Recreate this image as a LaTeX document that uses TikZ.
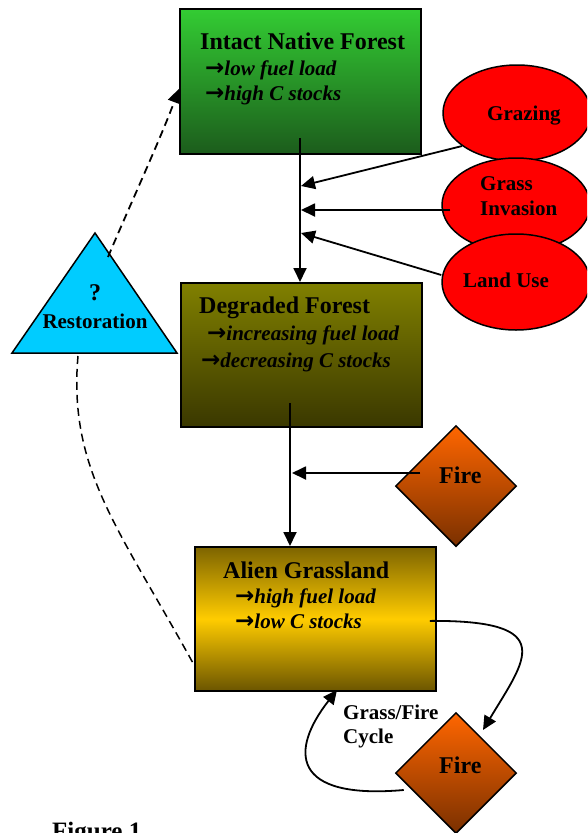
\documentclass[tikz,border=0pt]{standalone}
\usepackage{fontspec}
\setmainfont{Liberation Serif}
\newfontfamily\symfont{DejaVu Sans}
\usetikzlibrary{arrows.meta,shapes.geometric}
\definecolor{gtop}{HTML}{33CC33}
\definecolor{gbot}{HTML}{1C5C1C}
\definecolor{otop}{HTML}{808000}
\definecolor{obot}{HTML}{3A3800}
\definecolor{atop}{HTML}{7D6400}
\definecolor{amid}{HTML}{FFCC00}
\definecolor{abot}{HTML}{6B5500}
\definecolor{ftop}{HTML}{FF6600}
\definecolor{fbot}{HTML}{7A3000}
\definecolor{tricol}{HTML}{00CCFF}
\newcommand{\myarr}{{\symfont\bfseries\upshape\fontsize{23}{23}\selectfont →}}
\tikzset{
  box/.style={draw=black, line width=1.8pt, inner sep=0pt, anchor=north west, minimum width=241pt, minimum height=145pt},
  ell/.style={ellipse, draw=black, line width=1.5pt, fill=red, inner sep=0pt, minimum width=148pt, minimum height=96pt},
  firebox/.style={diamond, draw=black, line width=1.5pt, top color=ftop, bottom color=fbot, inner sep=0pt, minimum width=121pt, minimum height=121pt},
  head/.style={font=\fontsize{24}{24}\selectfont\bfseries, anchor=base west, inner sep=0pt},
  item/.style={font=\fontsize{21}{21}\selectfont\bfseries\itshape, anchor=base west, inner sep=0pt},
  lab/.style={font=\fontsize{21}{21}\selectfont\bfseries, anchor=base west, inner sep=0pt},
  arr/.style={line width=1.8pt, -{Triangle[length=14pt,width=13pt]}},
  darr/.style={line width=1.8pt, dash pattern=on 8pt off 5pt, -{Triangle[length=14pt,width=13pt]}},
  dline/.style={line width=1.5pt, dash pattern=on 8pt off 5pt},
}
\begin{document}
\begin{tikzpicture}[x=1pt,y=-1pt]
\clip (0,0) rectangle (587,833);
\useasboundingbox (0,0) rectangle (587,833);

% boxes
\node[box, top color=gtop, bottom color=gbot] (intact) at (179,8) {};
\node[box, top color=otop, bottom color=obot, minimum height=144pt] (deg) at (180,282) {};
\node[box, top color=atop, bottom color=abot, middle color=amid, minimum height=144pt] (alien) at (194,546) {};

% box texts
\node[head] (t1) at (200,49) {Intact Native Forest};
\node[item] (t1a) at (205,75) {\myarr low fuel load};
\node[item] (t1b) at (205,100) {\myarr high C stocks};
\node[head] (t2) at (199,313) {Degraded Forest};
\node[item] (t2a) at (207,340) {\myarr increasing fuel load};
\node[item] (t2b) at (201,367) {\myarr decreasing C stocks};
\node[head] (t3) at (223,578) {Alien Grassland};
\node[item] (t3a) at (235,603) {\myarr high fuel load};
\node[item] (t3b) at (235,628) {\myarr low C stocks};

% ellipses
\node[ell] (graz) at (517,113) {};
\node[ell, minimum height=94pt] (grass) at (516,205) {};
\node[ell] (land) at (516,282) {};
\node[lab] (tg) at (487,120) {Grazing};
\node[lab] (tgi1) at (480,190) {Grass};
\node[lab] (tgi2) at (480,215) {Invasion};
\node[lab] (tl) at (463,287) {Land Use};

% vertical arrow 1 and inputs
\coordinate (v1) at (300,138);
\draw[arr] (v1) -- (v1 |- deg.north);
\coordinate (c1) at (301,186);
\coordinate (c2) at (301,210);
\coordinate (c3) at (301,233);
\draw[arr] (graz.211) -- (c1);
\draw[arr] ([xshift=9pt,yshift=-5pt]grass.west) -- (c2);
\draw[arr] ([yshift=7pt]land.west) -- (c3);

% fire 1
\node[firebox] (fire1) at (456,486) {};
\node[head] (tf1) at (439,483) {Fire};
\coordinate (v2) at (290,403);
\draw[arr] (v2) -- (v2 |- alien.north);
\coordinate (c4) at (292,473);
\draw[arr] ([xshift=-36pt,yshift=13pt]fire1.center) -- (c4);

% fire 2 and cycle
\node[firebox] (fire2) at (456,773) {};
\node[head] (tf2) at (439,773) {Fire};
\coordinate (cyc1) at (483,730);
\coordinate (cyc2) at (337,690);
\draw[arr] ([xshift=-7pt,yshift=-2pt]alien.east) .. controls (560,620) and (525,660) .. (cyc1);
\draw[arr] ([xshift=9pt,yshift=-17pt]fire2.west) .. controls (290,800) and (290,750) .. (cyc2);
\node[lab] (gf1) at (343,719) {Grass/Fire};
\node[lab] (gf2) at (343,743) {Cycle};

% restoration triangle
\draw[line width=1.5pt, fill=tricol] (95,233) -- (177,353) -- (12,353) -- cycle;
\node[font=\fontsize{24}{24}\selectfont\bfseries, anchor=base, inner sep=0pt] (q) at (95,300) {?};
\node[lab, anchor=base] (rest) at (95,328) {Restoration};
\coordinate (tr1) at (108,257);
\coordinate (tr2) at (78,356);
\draw[darr] (tr1) .. controls (130,205) and (160,140) .. ([yshift=-7.5pt]intact.west);
\draw[dline] (tr2) .. controls (68,470) and (120,530) .. ([yshift=-46pt]alien.west);

% caption
\node[font=\fontsize{25}{25}\selectfont\bfseries, anchor=base west, inner sep=0pt] (fig) at (52,839) {Figure 1};
\end{tikzpicture}
\end{document}
